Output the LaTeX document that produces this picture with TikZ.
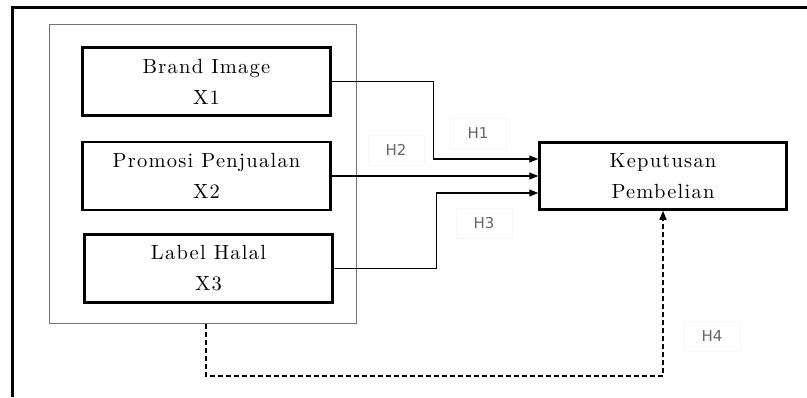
\documentclass[tikz,border=0pt]{standalone}
\usepackage{fontspec}
\newfontfamily\hfont{DejaVu Sans}
\newfontfamily\boxfont{lmroman10-regular.otf}[LetterSpace=6]
\usetikzlibrary{arrows.meta,positioning}

\begin{document}
\begin{tikzpicture}[x=1pt, y=-1pt, node distance=24pt, box/.style={draw, line width=2.5pt, align=center, minimum width=248pt, minimum height=68pt, inner sep=0pt, font=\boxfont\fontsize{20.5}{31}\selectfont}, grp/.style={draw=black!55, line width=1pt, minimum width=307pt, minimum height=299pt}, hyp/.style={draw=black!3, minimum width=56pt, minimum height=30pt, text=black!60, font=\hfont\fontsize{15}{15}\selectfont}, arr/.style={-{Triangle[length=9pt, width=7pt]}, line width=1.2pt}, dsh/.style={arr, dash pattern=on 5pt off 3pt}]
    \useasboundingbox (0,0) rectangle (807,397);
    % outer frame
    \draw[line width=3pt] (12,397) -- (12,7) -- (807,7);
    \node[grp] (grp) at (203,174) {};
    \node[box] (x1) at (206.5,81.5) {Brand Image\\X1};
    \node[box, below=of x1] (x2) {Promosi Penjualan\\X2};
    \node[box, below=22pt of x2, xshift=2pt] (x3) {Label Halal\\X3};
    \node[box, minimum width=247pt, minimum height=67pt] (k) at (663,176) {Keputusan\\Pembelian};
    \node[hyp] (h1) at (478,133) {H1};
    \node[hyp] (h2) at (396,150) {H2};
    \node[hyp] (h3) at (484,223) {H3};
    \node[hyp] (h4) at (712,336) {H4};
    \draw[arr] (x1.east) -- ++(102,0) |- ([yshift=17pt]k.west);
    \draw[arr] (x2.east) -- (k.west |- x2.east);
    \draw[arr] (x3.east) -- ++(103,0) |- ([yshift=-17pt]k.west);
    \draw[dsh] ([xshift=3pt]grp.south) -- ++(0,52) -| (k.south);
  \end{tikzpicture}
\end{document}
